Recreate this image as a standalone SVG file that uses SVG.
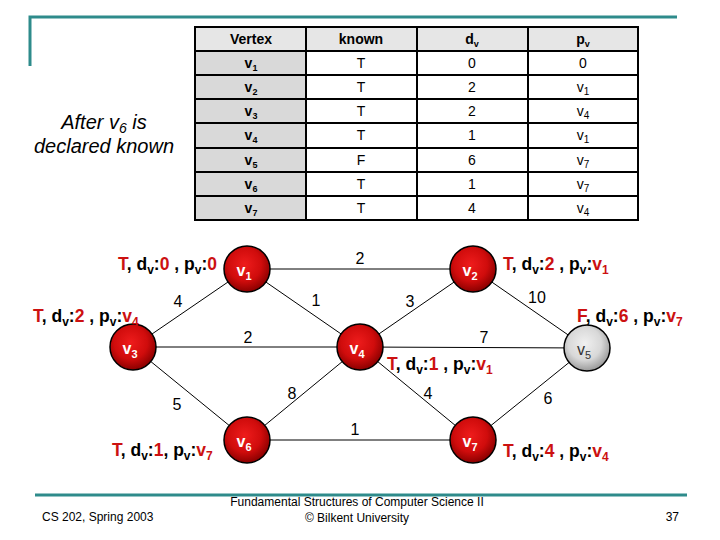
<svg xmlns="http://www.w3.org/2000/svg" width="720" height="540" viewBox="0 0 720 540">
<defs>
<radialGradient id="gRed" cx="45%" cy="40%" r="60%">
<stop offset="0" stop-color="#ee1c1c"/>
<stop offset="0.6" stop-color="#d00c0c"/>
<stop offset="1" stop-color="#8a0000"/>
</radialGradient>
<radialGradient id="gGray" cx="45%" cy="40%" r="60%">
<stop offset="0" stop-color="#f0f0f0"/>
<stop offset="0.6" stop-color="#d8d8d8"/>
<stop offset="1" stop-color="#9a9a9a"/>
</radialGradient>
</defs>
<style>
text{font-family:"Liberation Sans",Arial,sans-serif}
.teal{stroke:#2e8b8b;stroke-width:3;fill:none}
.th{font-size:14px;font-weight:bold;text-anchor:middle;fill:#000}
.tv{font-size:14px;font-weight:bold;text-anchor:middle;fill:#000}
.td{font-size:14px;text-anchor:middle;fill:#000}
.grid{stroke:#000;stroke-width:2;fill:none}
.edge{stroke:#000;stroke-width:1;fill:none}
.w{font-size:16px;text-anchor:middle;fill:#000}
.ann{font-size:17.5px;font-weight:bold;fill:#000}
.r{fill:#cc1111}
.nl{font-size:16px;font-weight:bold;fill:#fff;text-anchor:middle}
.ng{font-size:16px;fill:#333;text-anchor:middle}
.red{fill:url(#gRed);stroke:#000;stroke-width:1.5}
.gray{fill:url(#gGray);stroke:#000;stroke-width:1.5}
.foot{font-size:12px;fill:#000}
.title{font-size:20px;font-style:italic;text-anchor:middle;fill:#000}
</style>

<g id="frame">
<polyline class="teal" points="30,66 30,17 677,17"/>
<line class="teal" x1="35" y1="495" x2="687" y2="495"/>
</g>

<g id="caption">
<text class="title" x="104" y="129">After v<tspan font-size="14px" dy="4">6</tspan><tspan dy="-4"> is</tspan></text>
<text class="title" x="104" y="153">declared known</text>
</g>

<g id="table">
<rect x="195" y="27" width="443" height="24" fill="#e6e6e6"/>
<rect x="195" y="51" width="111" height="169" fill="#d9d9d9"/>
<rect x="306" y="51" width="332" height="169" fill="#ffffff"/>
<rect class="grid" x="195" y="27" width="443" height="193" stroke-width="2.5"/>
<path class="grid" d="M306,27V220M417,27V220M528,27V220M195,51H638M195,75H638M195,99H638M195,123H638M195,148H638M195,172H638M195,196H638"/>
<text class="th" x="251" y="44">Vertex</text>
<text class="th" x="361" y="44">known</text>
<text class="th" x="472" y="44">d<tspan font-size="9px" dy="3">v</tspan></text>
<text class="th" x="583" y="44">p<tspan font-size="9px" dy="3">v</tspan></text>

<text class="tv" x="251" y="68">v<tspan font-size="9px" dy="3">1</tspan></text>
<text class="tv" x="251" y="92">v<tspan font-size="9px" dy="3">2</tspan></text>
<text class="tv" x="251" y="116">v<tspan font-size="9px" dy="3">3</tspan></text>
<text class="tv" x="251" y="140">v<tspan font-size="9px" dy="3">4</tspan></text>
<text class="tv" x="251" y="165">v<tspan font-size="9px" dy="3">5</tspan></text>
<text class="tv" x="251" y="189">v<tspan font-size="9px" dy="3">6</tspan></text>
<text class="tv" x="251" y="213">v<tspan font-size="9px" dy="3">7</tspan></text>

<text class="td" x="361" y="68">T</text>
<text class="td" x="361" y="92">T</text>
<text class="td" x="361" y="116">T</text>
<text class="td" x="361" y="140">T</text>
<text class="td" x="361" y="165">F</text>
<text class="td" x="361" y="189">T</text>
<text class="td" x="361" y="213">T</text>

<text class="td" x="472" y="68">0</text>
<text class="td" x="472" y="92">2</text>
<text class="td" x="472" y="116">2</text>
<text class="td" x="472" y="140">1</text>
<text class="td" x="472" y="165">6</text>
<text class="td" x="472" y="189">1</text>
<text class="td" x="472" y="213">4</text>

<text class="td" x="583" y="68">0</text>
<text class="td" x="583" y="92">v<tspan font-size="10px" dy="3">1</tspan></text>
<text class="td" x="583" y="116">v<tspan font-size="10px" dy="3">4</tspan></text>
<text class="td" x="583" y="140">v<tspan font-size="10px" dy="3">1</tspan></text>
<text class="td" x="583" y="165">v<tspan font-size="10px" dy="3">7</tspan></text>
<text class="td" x="583" y="189">v<tspan font-size="10px" dy="3">7</tspan></text>
<text class="td" x="583" y="213">v<tspan font-size="10px" dy="3">4</tspan></text>
</g>

<g id="connectors">
<line class="edge" x1="247" y1="269" x2="473" y2="269"/>
<line class="edge" x1="247" y1="269" x2="133" y2="347"/>
<line class="edge" x1="247" y1="269" x2="360" y2="347"/>
<line class="edge" x1="473" y1="269" x2="360" y2="347"/>
<line class="edge" x1="473" y1="269" x2="587" y2="348"/>
<line class="edge" x1="133" y1="347" x2="360" y2="347"/>
<line class="edge" x1="360" y1="347" x2="587" y2="348"/>
<line class="edge" x1="133" y1="347" x2="247" y2="440"/>
<line class="edge" x1="360" y1="347" x2="247" y2="440"/>
<line class="edge" x1="360" y1="347" x2="473" y2="440"/>
<line class="edge" x1="473" y1="440" x2="587" y2="348"/>
<line class="edge" x1="247" y1="440" x2="473" y2="440"/>
<text class="w" x="360" y="264">2</text>
<text class="w" x="178" y="307">4</text>
<text class="w" x="316" y="306">1</text>
<text class="w" x="410" y="307">3</text>
<text class="w" x="537" y="303">10</text>
<text class="w" x="248" y="343">2</text>
<text class="w" x="484" y="343">7</text>
<text class="w" x="177" y="410">5</text>
<text class="w" x="292" y="399">8</text>
<text class="w" x="428" y="399">4</text>
<text class="w" x="548" y="404">6</text>
<text class="w" x="355" y="435">1</text>
</g>

<g id="v1">
<circle class="red" cx="247" cy="269" r="23"/>
<text class="nl" x="244" y="276">v<tspan font-size="11px" dy="4">1</tspan></text>
</g>
<g id="v2">
<circle class="red" cx="473" cy="269" r="23"/>
<text class="nl" x="470" y="276">v<tspan font-size="11px" dy="4">2</tspan></text>
</g>
<g id="v3">
<circle class="red" cx="133" cy="347" r="23"/>
<text class="nl" x="130" y="354">v<tspan font-size="11px" dy="4">3</tspan></text>
</g>
<g id="v4">
<circle class="red" cx="360" cy="347" r="23"/>
<text class="nl" x="357" y="354">v<tspan font-size="11px" dy="4">4</tspan></text>
</g>
<g id="v5">
<circle class="gray" cx="587" cy="348" r="23"/>
<text class="ng" x="584" y="355">v<tspan font-size="11px" dy="4">5</tspan></text>
</g>
<g id="v6">
<circle class="red" cx="247" cy="440" r="23"/>
<text class="nl" x="244" y="447">v<tspan font-size="11px" dy="4">6</tspan></text>
</g>
<g id="v7">
<circle class="red" cx="473" cy="440" r="23"/>
<text class="nl" x="470" y="447">v<tspan font-size="11px" dy="4">7</tspan></text>
</g>

<g id="annotations">
<text class="ann" x="118" y="270"><tspan class="r">T</tspan>, d<tspan font-size="12px" dy="4">v</tspan><tspan dy="-4">:</tspan><tspan class="r">0</tspan> , p<tspan font-size="12px" dy="4">v</tspan><tspan dy="-4">:</tspan><tspan class="r">0</tspan></text>
<text class="ann" x="33" y="322"><tspan class="r">T</tspan>, d<tspan font-size="12px" dy="4">v</tspan><tspan dy="-4">:</tspan><tspan class="r">2</tspan> , p<tspan font-size="12px" dy="4">v</tspan><tspan dy="-4">:</tspan><tspan class="r">v</tspan><tspan class="r" font-size="12px" dy="4">4</tspan></text>
<text class="ann" x="112" y="456"><tspan class="r">T</tspan>, d<tspan font-size="12px" dy="4">v</tspan><tspan dy="-4">:</tspan><tspan class="r">1</tspan>, p<tspan font-size="12px" dy="4">v</tspan><tspan dy="-4">:</tspan><tspan class="r">v</tspan><tspan class="r" font-size="12px" dy="4">7</tspan></text>
<text class="ann" x="503" y="270"><tspan class="r">T</tspan>, d<tspan font-size="12px" dy="4">v</tspan><tspan dy="-4">:</tspan><tspan class="r">2</tspan> , p<tspan font-size="12px" dy="4">v</tspan><tspan dy="-4">:</tspan><tspan class="r">v</tspan><tspan class="r" font-size="12px" dy="4">1</tspan></text>
<text class="ann" x="577" y="322"><tspan class="r">F</tspan>, d<tspan font-size="12px" dy="4">v</tspan><tspan dy="-4">:</tspan><tspan class="r">6</tspan> , p<tspan font-size="12px" dy="4">v</tspan><tspan dy="-4">:</tspan><tspan class="r">v</tspan><tspan class="r" font-size="12px" dy="4">7</tspan></text>
<text class="ann" x="387" y="370"><tspan class="r">T</tspan>, d<tspan font-size="12px" dy="4">v</tspan><tspan dy="-4">:</tspan><tspan class="r">1</tspan> , p<tspan font-size="12px" dy="4">v</tspan><tspan dy="-4">:</tspan><tspan class="r">v</tspan><tspan class="r" font-size="12px" dy="4">1</tspan></text>
<text class="ann" x="503" y="457"><tspan class="r">T</tspan>, d<tspan font-size="12px" dy="4">v</tspan><tspan dy="-4">:</tspan><tspan class="r">4</tspan> , p<tspan font-size="12px" dy="4">v</tspan><tspan dy="-4">:</tspan><tspan class="r">v</tspan><tspan class="r" font-size="12px" dy="4">4</tspan></text>
</g>

<g id="footer">
<text class="foot" x="42" y="521">CS 202, Spring 2003</text>
<text class="foot" x="357" y="506" text-anchor="middle">Fundamental Structures of Computer Science II</text>
<text class="foot" x="357" y="522" text-anchor="middle">© Bilkent University</text>
<text class="foot" x="679" y="521" text-anchor="end">37</text>
</g>
</svg>
